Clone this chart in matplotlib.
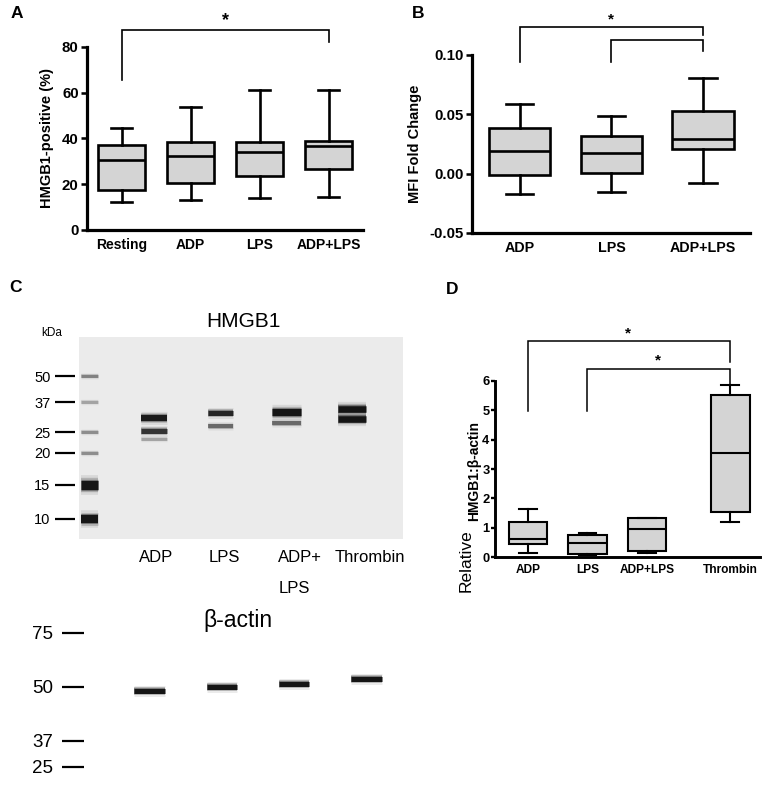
import numpy as np
import matplotlib
matplotlib.use("Agg")
import matplotlib.pyplot as plt
from matplotlib.ticker import NullLocator

# ---------------- data ----------------
# Panel A: HMGB1-positive platelets (%)
a_groups = ["Resting", "ADP", "LPS", "ADP+LPS"]
a_low = [12.4, 12.9, 14.1, 14.5]
a_q1 = [17.5, 20.4, 23.6, 26.5]
a_med = [30.8, 32.4, 34.2, 36.9]
a_q3 = [37.1, 38.3, 38.5, 39.1]
a_high = [44.4, 53.8, 61.1, 61.1]
a_ticks = [0, 20, 40, 60, 80]

# Panel B: MFI fold change
b_groups = ["ADP", "LPS", "ADP+LPS"]
b_low = [-0.0168, -0.0157, -0.0078]
b_q1 = [-0.0014, 0.0008, 0.0207]
b_med = [0.0187, 0.0173, 0.0291]
b_q3 = [0.0383, 0.0319, 0.0529]
b_high = [0.0588, 0.0484, 0.0809]
b_ticks = [-0.05, 0.0, 0.05, 0.10]

# Panel D: relative HMGB1:beta-actin
d_groups = ["ADP", "LPS", "ADP+LPS", "Thrombin"]
d_low = [0.15, 0.06, 0.15, 1.20]
d_q1 = [0.46, 0.11, 0.20, 1.54]
d_med = [0.63, 0.49, 0.97, 3.55]
d_q3 = [1.20, 0.76, 1.33, 5.52]
d_high = [1.62, 0.82, 1.33, 5.87]
d_ticks = [0, 1, 2, 3, 4, 5, 6]

# Panel C: western blots (apparent size in kDa, relative intensity)
blot_lanes = ["ADP", "LPS", "ADP+\nLPS", "Thrombin"]
ladder_top_kda = [50, 37, 25, 20, 15, 10]
ladder_top_int = [0.35, 0.22, 0.3, 0.3, 1.0, 1.0]
hmgb1_kda = [[30.0, 25.3, 23.2], [32.0, 27.0], [32.5, 28.1], [33.9, 29.5]]
hmgb1_int = [[0.95, 0.75, 0.22], [0.85, 0.45], [1.0, 0.45], [1.0, 1.0]]
ladder_bot_kda = [75, 50, 37, 25]
actin_kda = [49.0, 50.0, 51.2, 53.2]
actin_int = [1.0, 1.0, 1.0, 1.0]

# ---------------- helpers ----------------
W, H = 765, 810
fig = plt.figure(figsize=(W / 100, H / 100), dpi=100)
BOLD = ["Liberation Sans", "DejaVu Sans"]
SANS = ["Liberation Sans", "DejaVu Sans"]


def px_axes(l, t, r, b):
    return fig.add_axes([l / W, 1 - b / H, (r - l) / W, (b - t) / H])


def style_axes(ax, lw, xfs, yfs, tlen=4, tpad=2):
    for s in ["top", "right"]:
        ax.spines[s].set_visible(False)
    for s in ["left", "bottom"]:
        ax.spines[s].set_linewidth(lw)
    ax.tick_params(axis="y", direction="out", length=tlen, width=lw * 0.8,
                   labelsize=yfs, pad=tpad)
    ax.tick_params(axis="x", length=0, labelsize=xfs, pad=6)
    for lab in ax.get_xticklabels() + ax.get_yticklabels():
        lab.set_fontweight("bold")
        lab.set_family(BOLD)


def boxes(ax, groups, lo, q1, med, q3, hi, pos, width, capw, lw):
    stats = [dict(label=g, whislo=l, q1=a, med=m, q3=b, whishi=h)
             for g, l, a, m, b, h in zip(groups, lo, q1, med, q3, hi)]
    ax.bxp(stats, positions=pos, widths=width, capwidths=capw,
           showfliers=False, patch_artist=True, manage_ticks=False,
           boxprops=dict(facecolor="#d4d4d4", edgecolor="black", linewidth=lw),
           medianprops=dict(color="black", linewidth=lw),
           whiskerprops=dict(color="black", linewidth=lw),
           capprops=dict(color="black", linewidth=lw))
    ax.set_xticks(pos)
    ax.set_xticklabels(groups)


def bracket(ax, x0, x1, y, y0, y1, lw=1.2):
    ax.plot([x0, x0, x1, x1], [y0, y, y, y1], color="black", lw=lw,
            clip_on=False, solid_joinstyle="miter")


def star(ax, x, y, fs):
    ax.text(x, y, "*", ha="center", va="center", fontsize=fs,
            fontweight="bold", family=BOLD, clip_on=False)


# ---------------- panel A ----------------
axA = px_axes(87, 47, 363, 230)
posA = np.arange(len(a_groups))
boxes(axA, a_groups, a_low, a_q1, a_med, a_q3, a_high, posA, 0.68, 0.29, 1.9)
axA.set_xlim(-0.5, 3.5)
axA.set_ylim(0, 80)
axA.set_yticks(a_ticks)
style_axes(axA, 2.3, 10, 10.8)
axA.set_ylabel("HMGB1-positive (%)", fontsize=10.5, fontweight="bold",
               family=BOLD, labelpad=6)
bracket(axA, posA[0], posA[3], 87.3, 65.5, 82.0)
star(axA, 1.5, 91.5, 13)

# ---------------- panel B ----------------
axB = px_axes(472, 55, 750, 233)
posB = np.arange(len(b_groups))
boxes(axB, b_groups, b_low, b_q1, b_med, b_q3, b_high, posB, 0.67, 0.3, 1.9)
axB.set_xlim(-0.52, 2.51)
axB.set_ylim(-0.05, 0.10)
axB.set_yticks(b_ticks)
axB.set_yticklabels([f"{v:.2f}" for v in b_ticks])
style_axes(axB, 2.3, 10.3, 10.8)
axB.set_ylabel("MFI Fold Change", fontsize=10.5, fontweight="bold",
               family=BOLD, labelpad=5)
bracket(axB, posB[0], posB[2], 0.1237, 0.0943, 0.1167)
bracket(axB, posB[1], posB[2], 0.1130, 0.0943, 0.1035)
star(axB, 1.0, 0.1300, 11)

# ---------------- panel D ----------------
axD = px_axes(495, 381, 760, 557)
posD = np.array([0, 1, 2, 3.4])
boxes(axD, d_groups, d_low, d_q1, d_med, d_q3, d_high, posD, 0.65, 0.3, 1.5)
axD.set_xlim(-0.555, 3.9)
axD.set_ylim(0, 6)
axD.set_yticks(d_ticks)
style_axes(axD, 2.1, 8.6, 9.3, tlen=3, tpad=1)
axD.tick_params(axis="x", pad=5)
bracket(axD, posD[0], posD[3], 7.35, 4.98, 6.66, lw=1.1)
bracket(axD, posD[1], posD[3], 6.40, 4.98, 5.79, lw=1.1)
star(axD, 1.68, 7.63, 11)
star(axD, 2.18, 6.69, 11)
axD.text(-0.108, -0.02, "Relative", rotation=90, ha="center", va="center",
         transform=axD.transAxes, fontsize=12.5, family=SANS)
axD.text(-0.078, 0.49, "HMGB1:\u03b2-actin", rotation=90, ha="center",
         va="center", transform=axD.transAxes, fontsize=10,
         fontweight="bold", family=BOLD)


# ---------------- panel C (blots) ----------------
def gel_scale(kda, mig):
    lk = np.log(np.asarray(kda, float))[::-1]
    neg = -np.asarray(mig, float)[::-1]

    def lin(x, xp, fp):
        x = np.asarray(x, float)
        y = np.interp(x, xp, fp)
        s0 = (fp[1] - fp[0]) / (xp[1] - xp[0])
        s1 = (fp[-1] - fp[-2]) / (xp[-1] - xp[-2])
        y = np.where(x < xp[0], fp[0] + (x - xp[0]) * s0, y)
        y = np.where(x > xp[-1], fp[-1] + (x - xp[-1]) * s1, y)
        return y

    def fwd(k):
        k = np.clip(np.asarray(k, float), 1e-6, None)
        return lin(np.log(k), lk, neg)

    def inv(v):
        return np.exp(lin(v, neg, lk))

    return fwd, inv


def band(ax, x, k, width, thick_px, inten):
    lw = thick_px * 0.72
    xs = [x - width / 2, x + width / 2]
    for f, a in [(2.2, 0.08), (1.6, 0.18), (1.25, 0.35)]:
        ax.plot(xs, [k, k], color="black", lw=lw * f, alpha=a * inten,
                solid_capstyle="butt")
    ax.plot(xs, [k, k], color="#151515", lw=lw, alpha=inten,
            solid_capstyle="butt")


def blot_axes(l, t, r, b, kda, mig, bg, tick_len, tick_fs, pad):
    ax = px_axes(l, t, r, b)
    fwd, inv = gel_scale(kda, mig)
    ax.set_yscale("function", functions=(fwd, inv))
    ax.set_ylim(inv(-(b - t)), inv(0))
    ax.set_facecolor(bg)
    for s in ["top", "right", "bottom"]:
        ax.spines[s].set_visible(False)
    ax.spines["left"].set_color("none")
    ax.spines["left"].set_position(("outward", 3))
    ax.set_yticks(kda)
    ax.set_yticklabels([str(k) for k in kda])
    ax.yaxis.set_minor_locator(NullLocator())
    ax.tick_params(axis="y", direction="out", length=tick_len, width=1.6,
                   labelsize=tick_fs, pad=pad)
    for lab in ax.get_yticklabels():
        lab.set_family(SANS)
    ax.set_xticks([])
    return ax


# top blot: HMGB1
axC = blot_axes(79, 337, 403, 539, ladder_top_kda,
                [39, 65, 95, 116, 148, 182], "#ebebeb", 14.5, 10.5, 3)
axC.set_xlim(-0.136, 4.77)
ladder_px = [3, 3, 3, 3, 9, 8]
for k, it, th in zip(ladder_top_kda, ladder_top_int, ladder_px):
    band(axC, 0.02, k, 0.26, th, it)
hmgb1_px = [[6, 5, 3], [5, 4], [7, 4], [6.5, 6.5]]
hmgb1_w = [0.40, 0.38, 0.44, 0.42]
for i, (ks, its) in enumerate(zip(hmgb1_kda, hmgb1_int)):
    for k, it, th in zip(ks, its, hmgb1_px[i]):
        band(axC, i + 1, k, hmgb1_w[i], th, it)
tr = axC.get_xaxis_transform()
axC.text(2.35, 1.075, "HMGB1", transform=tr, ha="center", va="center",
         fontsize=15, family=SANS)
axC.text(-0.545, 1.02, "kDa", transform=tr, ha="center", va="center",
         fontsize=8.5, family=SANS)
lab_x = [1.03, 2.06, 2.88, 4.27]
lab_ha = ["center", "center", "left", "center"]
for name, x, ha in zip(blot_lanes, lab_x, lab_ha):
    axC.text(x, -0.055, name, transform=tr, ha=ha, va="top", fontsize=12,
             family=SANS, linespacing=2.3)

# bottom blot: beta-actin
axE = blot_axes(88, 600, 410, 800, ladder_bot_kda, [33, 87, 141, 167],
                "white", 16, 13.5, 6)
axE.set_xlim(0.152, 4.6)
for i, (k, it) in enumerate(zip(actin_kda, actin_int)):
    band(axE, i + 1, k, 0.42, 5, it)
axE.text(0.466, 0.9, "\u03b2-actin", transform=axE.transAxes, ha="center",
         va="center", fontsize=16.5, family=SANS)

# ---------------- panel letters ----------------
for lt, x, y in [("A", 17, 14), ("B", 418, 14), ("C", 15, 287), ("D", 452, 290)]:
    fig.text(x / W, 1 - y / H, lt, ha="center", va="center", fontsize=12.5,
             fontweight="bold", family=BOLD)

fig.savefig("out.png", dpi=100)
